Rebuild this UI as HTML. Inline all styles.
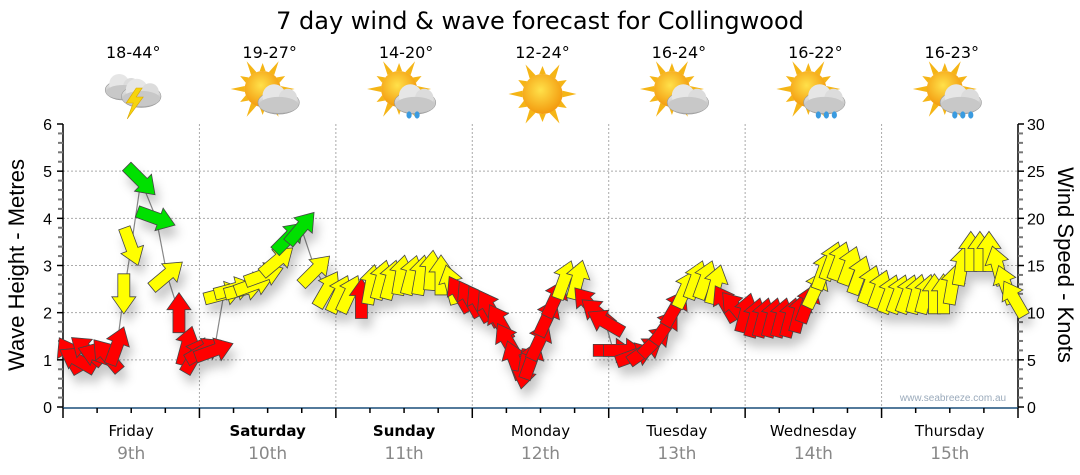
<!DOCTYPE html>
<html><head><meta charset="utf-8">
<style>
html,body{margin:0;padding:0;background:#fff;}
svg{display:block;}
</style></head>
<body>
<svg id="chart" width="1080" height="475" viewBox="0 0 1080 475" xmlns="http://www.w3.org/2000/svg">
<defs>
<filter id="sh" x="-50%" y="-50%" width="200%" height="200%">
<feDropShadow dx="4" dy="9" stdDeviation="5" flood-color="#000" flood-opacity="0.22"/>
</filter>
<radialGradient id="sunG" cx="45%" cy="40%" r="60%"><stop offset="0" stop-color="#ffe14a"/><stop offset="1" stop-color="#f39a0e"/></radialGradient>
<linearGradient id="cloudG" x1="0" y1="0" x2="0" y2="1"><stop offset="0" stop-color="#f2f2f2"/><stop offset="1" stop-color="#a9a9a9"/></linearGradient>
</defs>
<text x="540" y="29" text-anchor="middle" font-family="DejaVu Sans, sans-serif" font-size="24" fill="#000">7 day wind &amp; wave forecast for Collingwood</text>
<g id="grid"></g>
<g id="axes"></g>
<g id="icons"></g>
<g id="series"></g>
<text x="953" y="401" text-anchor="middle" font-family="Liberation Sans, sans-serif" font-size="10" fill="#9aaabb">www.seabreeze.com.au</text>
<text transform="translate(24,265) rotate(-90)" text-anchor="middle" font-family="Liberation Sans, sans-serif" font-size="22" fill="#000">Wave Height - Metres</text>
<text transform="translate(1058,265) rotate(90)" text-anchor="middle" font-family="Liberation Sans, sans-serif" font-size="22" fill="#000">Wind Speed - Knots</text>
</svg>
<script>
const days = ["Friday","Saturday","Sunday","Monday","Tuesday","Wednesday","Thursday"];
const dates = ["9th","10th","11th","12th","13th","14th","15th"];
const boldDays = [false,true,true,false,false,false,false];
const temps = ["18-44°","19-27°","14-20°","12-24°","16-24°","16-22°","16-23°"];
const weather = ["storm","partly","shower","sun","partly","rain","rain"];
const leftTicks = [0,1,2,3,4,5,6];
const rightTicks = [0,5,10,15,20,25,30];
const windHours = [1.1,2.5,4.2,6,7.7,9.5,10.7,12,13.7,16.4,18.3,20.4,21.8,23.2,
24.8,26.6,28.3,30.1,31.9,33.6,35.4,37.7,39.8,41.9,44.4,46.5,
48.6,50.4,52.5,54.2,56,57.7,59.5,61.3,63,64.8,66.5,68.3,69.7,71.5,
73.2,75,76.8,78.2,79.4,81.2,82.4,83.8,85.2,86.6,88.2,90.5,92.3,94,95.4,
96.8,98.6,100.7,102.5,104.2,106,107.7,109.5,111.3,113,114.8,116.5,118.3,
120.1,121.7,123.2,124.8,126.4,128,129.6,131,132.4,133.8,135.2,136.6,138.4,140.1,141.9,
143.7,145.4,147,148.6,150.2,151.8,153.3,154.9,156.5,158.1,159.7,161.3,162.9,164.4,165.8,167.3];
const windKnots = [5.5,5,6,5.5,5.5,6.5,12,17,24,20,14,10,6.5,5.5,
6,6,12,12.5,12.5,13,14,15.5,18,19,14.5,12.5,
12,12,11.5,13,13.5,13.5,14,14,14,14.5,14,13,12,11.5,
11,10.5,9,7,5,4,5,7,9.5,11.5,13.5,13.5,11,10,9,
6,6,5.5,6,7,8.5,10.5,12.5,13.5,13.5,13,11,10.5,
10,9.5,9.5,9.5,9.5,9.5,10,11,12.5,14.5,15.5,15.5,15,14,13,
12.5,12,12,12,12,12,12,12,13,15,16.5,16.5,16.5,15,13,11.5];
const windDir = [330,300,310,290,320,20,180,160,135,110,50,0,15,30,
60,70,75,75,75,70,70,50,45,40,45,30,
25,25,0,10,15,15,10,15,10,5,0,345,330,330,
330,330,330,330,340,190,20,25,25,25,20,15,320,310,300,
90,90,70,55,45,35,30,25,20,20,15,330,320,
15,15,15,15,15,15,15,20,25,20,20,20,20,20,20,
20,20,20,20,15,15,0,0,10,10,0,0,0,345,340,330];
const windCat = ["r","r","r","r","r","r","y","y","g","g","y","r","r","r",
"r","r","y","y","y","y","y","y","g","g","y","y",
"y","y","r","y","y","y","y","y","y","y","y","y","r","r",
"r","r","r","r","r","r","r","r","r","r","y","y","r","r","r",
"r","r","r","r","r","r","r","y","y","y","y","r","r",
"r","r","r","r","r","r","r","r","y","y","y","y","y","y","y",
"y","y","y","y","y","y","y","y","y","y","y","y","y","y","y","y"];

const NS="http://www.w3.org/2000/svg";
const X0=63, X1=1018, Y0=407, Y1=124;
const xH = h => X0 + (X1-X0)*h/168;
const yM = m => Y0 - (Y0-Y1)*m/6;
const yK = k => Y0 - (Y0-Y1)*k/30;
function mk(tag, attrs, parent){const e=document.createElementNS(NS,tag);for(const k in attrs)e.setAttribute(k,attrs[k]);parent.appendChild(e);return e;}
const grid=document.getElementById('grid'), axes=document.getElementById('axes'), icons=document.getElementById('icons'), series=document.getElementById('series');

for(let m=1;m<6;m++){const l=mk('line',{x1:X0,x2:X1,y1:yM(m),y2:yM(m),stroke:'#aaa','stroke-dasharray':'2,2','stroke-width':1},grid);

}
for(let d=1;d<7;d++){const l=mk('line',{x1:xH(d*24),x2:xH(d*24),y1:Y1,y2:Y0,stroke:'#aaa','stroke-dasharray':'2,2','stroke-width':1},grid);

}

const la=mk('line',{x1:X0,x2:X0,y1:Y1,y2:Y0+1,stroke:'#000','stroke-width':1.5},axes);


const ra=mk('line',{x1:X1,x2:X1,y1:Y1,y2:Y0+1,stroke:'#000','stroke-width':1.5},axes);


const ba=mk('line',{x1:X0,x2:X1,y1:Y0+1,y2:Y0+1,stroke:'#1a4f7a','stroke-width':1.5},axes);


for(let i=0;i<=30;i++){const m=i/5;const major=i%5===0;
 mk('line',{x1:X0-(major?6:5),x2:X0,y1:yM(m),y2:yM(m),stroke:major?'#000':'#777','stroke-width':major?1.5:2},axes);}
for(let k=0;k<=30;k++){const major=k%5===0;
 mk('line',{x1:X1,x2:X1+(major?6:5),y1:yK(k),y2:yK(k),stroke:major?'#000':'#777','stroke-width':major?1.5:2},axes);}
leftTicks.forEach(m=>{const t=mk('text',{x:52,y:yM(m)+6,'text-anchor':'end','font-family':'Liberation Sans, sans-serif','font-size':16,fill:'#000'},axes);t.textContent=m;

});
rightTicks.forEach(k=>{const t=mk('text',{x:1027,y:yK(k)+6,'text-anchor':'start','font-family':'Liberation Sans, sans-serif','font-size':16,fill:'#000'},axes);t.textContent=k;

});
for(let h=0;h<=168;h+=6){const major=h%24===0;
 mk('line',{x1:xH(h),x2:xH(h),y1:Y0+1,y2:Y0+(major?11:6),stroke:'#000','stroke-width':1.5},axes);}
days.forEach((d,i)=>{const cx=xH(i*24+12);
 const t=mk('text',{x:cx,y:436,'text-anchor':'middle','font-family':'DejaVu Sans, sans-serif','font-size':15,'font-weight':boldDays[i]?'bold':'normal',fill:'#000'},axes);t.textContent=d;
 
 
 const t2=mk('text',{x:cx,y:459,'text-anchor':'middle','font-family':'DejaVu Sans, sans-serif','font-size':17,fill:'#888'},axes);t2.textContent=dates[i];
 
 
 const t3=mk('text',{x:cx+2,y:58,'text-anchor':'middle','font-family':'DejaVu Sans, sans-serif','font-size':16,fill:'#000'},icons);t3.textContent=temps[i];
 
 
 drawIcon(weather[i], cx+2, 94);
});

function sun(g,cx,cy,r){
 for(let a=0;a<360;a+=30){const rad=a*Math.PI/180;const big=a%60===0;
  const L=big?r+14:r+8;
  mk('polygon',{points:`${cx+Math.cos(rad)*L},${cy+Math.sin(rad)*L} ${cx+Math.cos(rad+0.17)*r},${cy+Math.sin(rad+0.17)*r} ${cx+Math.cos(rad-0.17)*r},${cy+Math.sin(rad-0.17)*r}`,fill:'#f5b516'},g);}
 mk('circle',{cx,cy,r,fill:'url(#sunG)'},g);
}
function cloud(g,cx,cy,s){
 mk('ellipse',{cx:cx,cy:cy+4*s,rx:18*s,ry:10*s,fill:'url(#cloudG)',stroke:'#999','stroke-width':0.6},g);
 mk('circle',{cx:cx-4*s,cy:cy-2*s,r:10*s,fill:'#e6e6e6'},g);
 mk('circle',{cx:cx+8*s,cy:cy,r:8*s,fill:'#dcdcdc'},g);
 mk('ellipse',{cx:cx,cy:cy+6*s,rx:17*s,ry:7*s,fill:'#c8c8c8'},g);
}
function drawIcon(type,cx,cy){
 const g=mk('g',{},icons);
 
 
 if(type==='storm'){cloud(g,cx-10,cy-8,1);cloud(g,cx+8,cy-2,1.1);
  mk('polygon',{points:`${cx+3},${cy-6} ${cx-7},${cy+9} ${cx},${cy+9} ${cx-6},${cy+25} ${cx+10},${cy+3} ${cx+3},${cy+3} ${cx+9},${cy-6}`,fill:'#f6d40c',stroke:'#d9a500','stroke-width':0.6},g);}
 else if(type==='sun'){sun(g,cx,cy,20);}
 else {sun(g,cx-7,cy-5,18);cloud(g,cx+9,cy+4,1.15);
  if(type==='shower'||type==='rain'){const n=type==='rain'?3:2;for(let i=0;i<n;i++)mk('ellipse',{cx:cx+3+i*8,cy:cy+21,rx:2.6,ry:3.6,fill:'#3a9be0'},g);}
 }
}

const cols={r:'#ff0000',y:'#ffff00',g:'#00e000'};
const pts=windHours.map((h,i)=>[xH(h),yK(windKnots[i])]);
const line=mk('polyline',{points:pts.map(p=>p.join(',')).join(' '),fill:'none',stroke:'#888','stroke-width':1.2},series);


const ag=mk('g',{filter:'url(#sh)'},series);


const arrowPts="0,-20 12,-3 6,-3 6,20 -6,20 -6,-3 -12,-3";
windHours.forEach((h,i)=>{
 const a=mk('polygon',{points:arrowPts,transform:`translate(${xH(h)},${yK(windKnots[i])}) rotate(${windDir[i]})`,fill:cols[windCat[i]],stroke:'#444','stroke-width':0.8,'stroke-linejoin':'miter'},ag);
 
 
});
</script>
</body></html>
